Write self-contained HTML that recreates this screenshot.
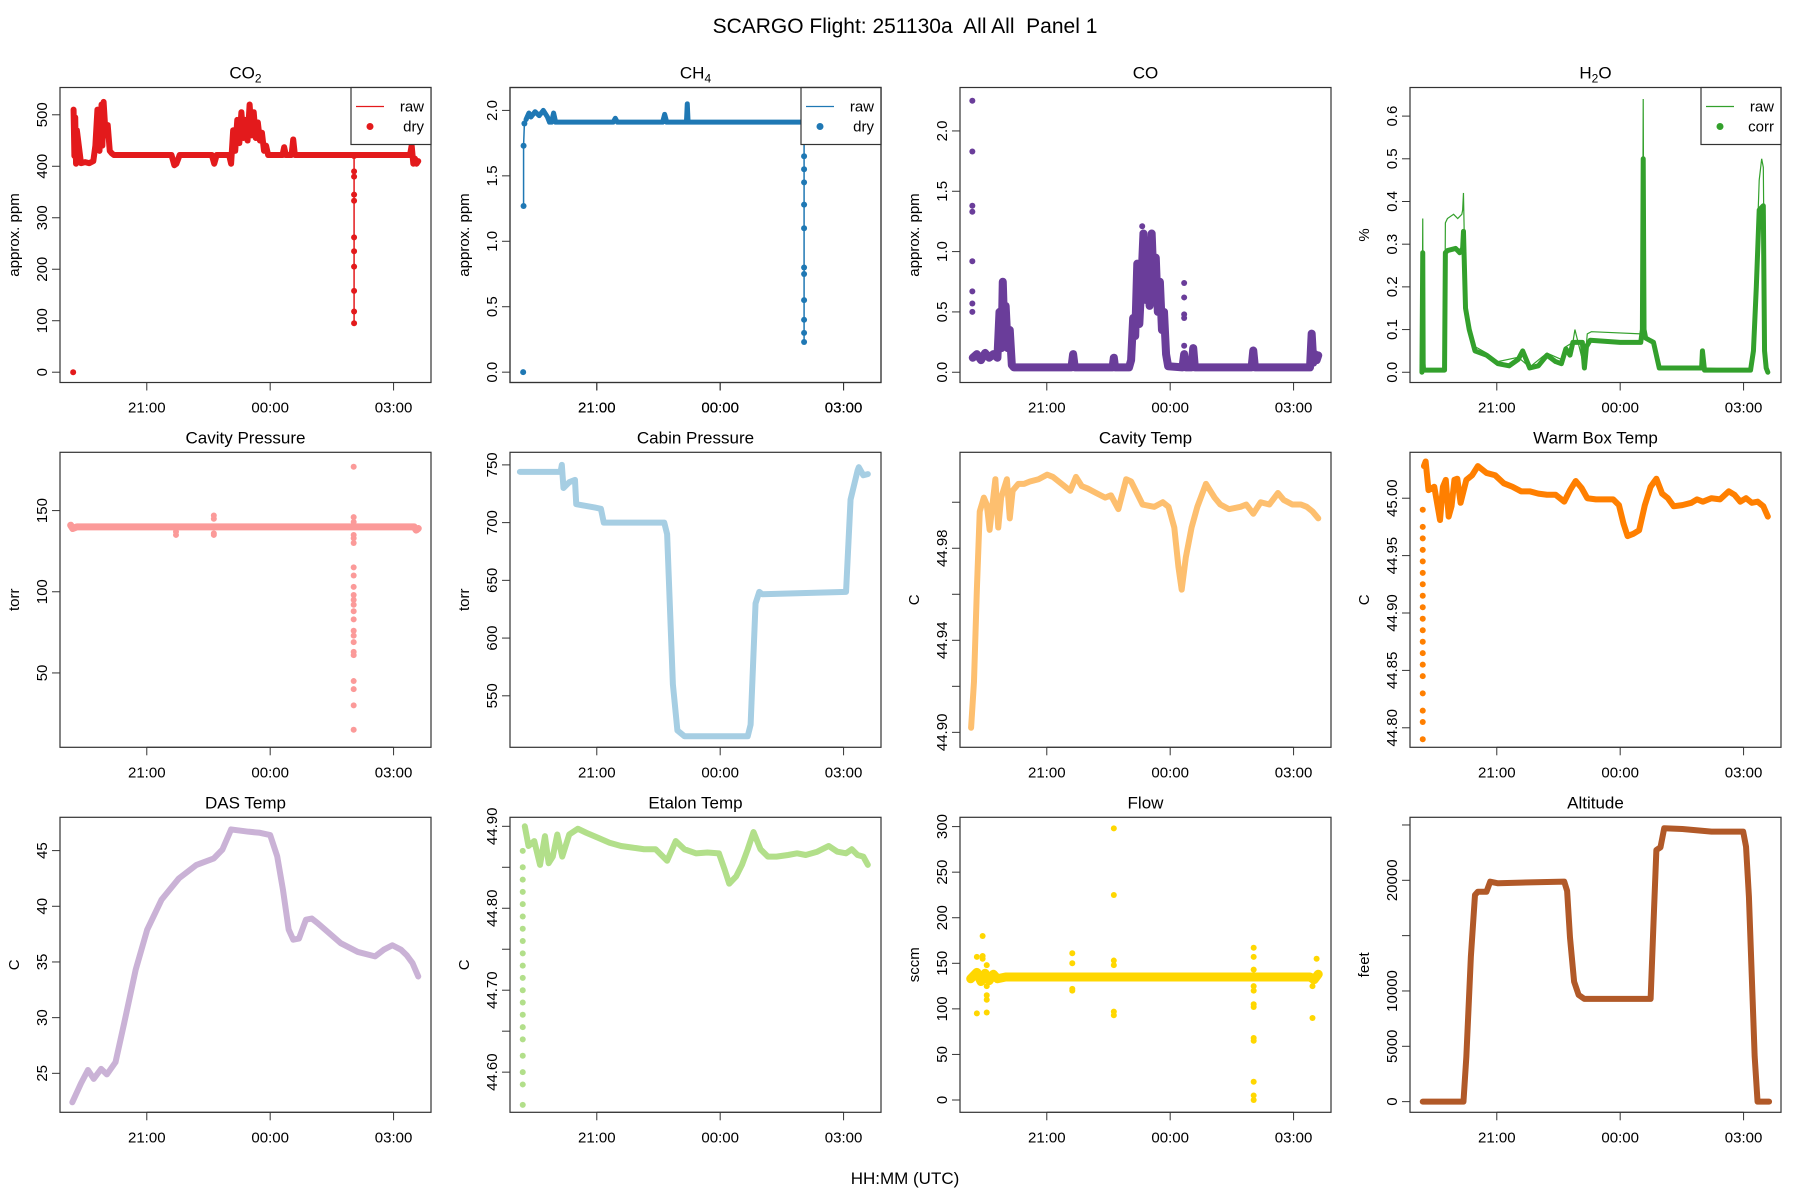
<!DOCTYPE html>
<html><head><meta charset="utf-8"><style>
body{margin:0;background:#fff;}
svg{display:block;font-family:"Liberation Sans",sans-serif;}
</style></head><body>
<svg id="chart" width="1800" height="1200" viewBox="0 0 1800 1200" xmlns="http://www.w3.org/2000/svg">
<text x="905" y="33" font-size="21" text-anchor="middle" style="white-space:pre" xml:space="preserve">SCARGO Flight: 251130a  All All  Panel 1</text>
<text x="905" y="1184" font-size="17" text-anchor="middle">HH:MM (UTC)</text>
</svg>
<script>
// time axis (hours relative to 00:00 UTC)
const timeTicks=[-3,0,3];
const timeLabels=["21:00","00:00","03:00"];

// CO2
const co2Times=[-4.78,-4.76,-4.74,-4.72,-4.7,-4.6,-4.5,-4.4,-4.3,-4.25,-4.2,-4.15,-4.1,-4.08,-4.05,-4.0,-3.95,-3.9,-3.85,-3.8,-2.4,-2.33,-2.28,-2.2,-1.42,-1.36,-1.3,-1.0,-0.95,-0.9,-0.85,-0.8,-0.75,-0.7,-0.65,-0.6,-0.55,-0.5,-0.45,-0.4,-0.35,-0.3,-0.25,-0.2,-0.15,-0.1,-0.05,0.3,0.34,0.38,0.52,0.56,0.6,3.4,3.44,3.48,3.52,3.56,3.6];
const co2Values=[510,420,495,405,470,406,408,406,410,440,510,430,520,440,525,460,480,430,425,422,422,402,405,422,422,405,422,422,405,470,430,490,445,505,455,490,450,520,460,505,455,485,450,465,430,440,422,422,437,422,422,452,422,422,440,405,415,405,410];
const co2DotTimes=[-4.79,2.04,2.04,2.04,2.04,2.04,2.04,2.04,2.04,2.04,2.04,2.04];
const co2DotValues=[0,420,390,380,345,333,262,235,205,158,118,95];
const co2Ticks=[0,100,200,300,400,500];
// CH4
const ch4Times=[-4.72,-4.65,-4.6,-4.5,-4.4,-4.3,-4.2,-4.15,-4.1,-4.05,-4.0,-3.9,-2.6,-2.55,-2.5,-1.4,-1.35,-1.3,-0.82,-0.8,-0.78,2.0,3.5];
const ch4Values=[1.93,1.98,1.95,1.99,1.96,2.0,1.95,1.91,1.91,1.98,1.91,1.91,1.91,1.94,1.91,1.91,1.97,1.91,1.91,2.05,1.91,1.91,1.9];
const ch4DotTimes=[-4.79,-4.78,-4.78,-4.76,2.04,2.04,2.04,2.04,2.04,2.04,2.04,2.04,2.04,2.04,2.04,2.04];
const ch4DotValues=[0,1.27,1.73,1.9,1.9,1.65,1.55,1.45,1.28,1.1,0.8,0.75,0.55,0.4,0.3,0.23];
const ch4Ticks=[0,0.5,1,1.5,2];
// CO
const coTimes=[-4.8,-4.7,-4.6,-4.5,-4.4,-4.3,-4.2,-4.15,-4.1,-4.07,-4.03,-4.0,-3.95,-3.9,-3.85,-3.8,-2.4,-2.36,-2.32,-1.4,-1.37,-1.34,-1.0,-0.95,-0.9,-0.85,-0.8,-0.75,-0.7,-0.65,-0.6,-0.55,-0.5,-0.45,-0.4,-0.35,-0.3,-0.25,-0.2,-0.15,-0.1,-0.05,0.3,0.34,0.38,0.52,0.56,0.6,1.98,2.02,2.06,3.4,3.44,3.48,3.52,3.56,3.6];
const coValues=[0.12,0.15,0.1,0.16,0.12,0.15,0.12,0.5,0.2,0.75,0.3,0.55,0.2,0.35,0.06,0.04,0.04,0.15,0.04,0.04,0.12,0.04,0.04,0.1,0.45,0.3,0.9,0.4,0.75,1.15,0.6,1.0,0.55,1.15,0.7,0.95,0.5,0.75,0.35,0.5,0.15,0.05,0.04,0.15,0.04,0.04,0.2,0.04,0.04,0.18,0.04,0.04,0.32,0.08,0.15,0.1,0.14];
const coDotTimes=[-4.81,-4.81,-4.81,-4.81,-4.81,-4.81,-4.81,-4.81,0.34,0.34,0.34,0.34,0.34,-0.68];
const coDotValues=[2.25,1.83,1.38,1.33,0.92,0.67,0.57,0.5,0.74,0.62,0.48,0.45,0.22,1.21];
const coTicks=[0,0.5,1,1.5,2];
// H2O
const h2oTimes=[-4.82,-4.8,-4.79,-4.78,-4.76,-4.5,-4.27,-4.25,-4.2,-4.0,-3.9,-3.83,-3.81,-3.76,-3.67,-3.53,-3.25,-2.97,-2.7,-2.48,-2.37,-2.2,-1.99,-1.78,-1.57,-1.43,-1.32,-1.22,-1.15,-0.92,-0.87,-0.82,-0.73,0.0,0.5,0.54,0.56,0.58,0.62,0.81,0.95,1.5,1.98,2.0,2.05,2.3,3.17,3.24,3.31,3.38,3.48,3.51,3.55,3.59];
const h2oValues=[0.0,0.28,0.02,0.005,0.005,0.005,0.005,0.28,0.285,0.29,0.28,0.29,0.33,0.15,0.1,0.05,0.04,0.02,0.015,0.03,0.05,0.01,0.015,0.04,0.025,0.02,0.055,0.04,0.07,0.07,0.01,0.06,0.075,0.07,0.07,0.1,0.5,0.1,0.08,0.07,0.01,0.01,0.01,0.05,0.005,0.005,0.005,0.05,0.2,0.38,0.39,0.05,0.01,0.0];
const h2oRawTimes=[-4.82,-4.8,-4.79,-4.76,-4.27,-4.25,-4.2,-4.05,-3.95,-3.85,-3.83,-3.81,-3.76,-3.67,-3.53,-3.25,-2.97,-2.48,-2.2,-1.78,-1.43,-1.32,-1.15,-1.1,-0.87,-0.8,-0.7,0.5,0.54,0.56,0.58,0.62,0.81,0.95,2.0,3.17,3.24,3.31,3.38,3.44,3.48,3.52,3.59];
const h2oRawValues=[0.0,0.36,0.02,0.005,0.005,0.35,0.36,0.37,0.36,0.37,0.38,0.42,0.16,0.11,0.06,0.045,0.025,0.035,0.012,0.045,0.03,0.06,0.07,0.1,0.01,0.09,0.095,0.09,0.12,0.64,0.12,0.08,0.07,0.01,0.01,0.005,0.06,0.25,0.45,0.5,0.48,0.05,0.0];
const h2oTicks=[0,0.1,0.2,0.3,0.4,0.5,0.6];
// Cavity pressure
const cpTimes=[-4.85,-4.8,-4.7,-2.3,-1.37,2.03,3.5,3.55,3.6];
const cpValues=[141,139,140,140,140,140,140,138,139];
const cpDotTimes=[-2.29,-2.29,-1.37,-1.37,-1.37,-1.37,2.03,2.03,2.03,2.03,2.03,2.03,2.03,2.03,2.03,2.03,2.03,2.03,2.03,2.03,2.03,2.03,2.03,2.03,2.03,2.03,2.03,2.03,2.03];
const cpDotValues=[137,135,147,145,136,135,177,146,143,135,133,130,115,110,103,98,95,92,88,83,76,73,69,63,61,45,40,30,15];
const cpTicks=[50,100,150];
// Cabin pressure
const cabTimes=[-4.87,-3.88,-3.85,-3.81,-3.67,-3.53,-3.5,-3.04,-2.9,-2.83,-1.36,-1.29,-1.15,-1.04,-0.87,0.67,0.74,0.86,0.95,1.02,3.06,3.17,3.34,3.37,3.48,3.59];
const cabValues=[744,744,750,730,735,737,716,713,712,700,700,690,560,520,515,515,525,630,640,638,640,720,745,748,741,742];
const cabTicks=[550,600,650,700,750];
// Cavity temp
const ctTimes=[-4.84,-4.77,-4.70,-4.63,-4.53,-4.46,-4.39,-4.32,-4.25,-4.18,-4.11,-3.97,-3.90,-3.83,-3.69,-3.55,-3.41,-3.20,-2.99,-2.85,-2.64,-2.43,-2.29,-2.15,-2.01,-1.80,-1.58,-1.44,-1.26,-1.07,-0.95,-0.81,-0.67,-0.39,-0.18,-0.04,0.10,0.20,0.28,0.38,0.52,0.66,0.87,1.08,1.22,1.43,1.71,1.85,2.02,2.20,2.41,2.62,2.76,2.97,3.18,3.32,3.46,3.60];
const ctValues=[44.902,44.922,44.962,44.996,45.002,44.999,44.988,44.999,45.010,44.989,45.002,45.010,44.993,45.005,45.008,45.008,45.009,45.010,45.012,45.011,45.008,45.005,45.011,45.007,45.006,45.004,45.002,45.003,44.997,45.010,45.009,45.004,44.999,44.998,45.000,44.998,44.989,44.972,44.962,44.976,44.989,44.998,45.008,45.002,44.999,44.997,44.998,44.999,44.995,45.000,44.999,45.004,45.001,44.999,44.999,44.998,44.996,44.993];
const ctTicks=[44.90,44.92,44.94,44.96,44.98,45.00];
const ctLabels=["44.90","","44.94","","44.98",""];
// Warm box temp
const wbTimes=[-4.77,-4.73,-4.66,-4.52,-4.38,-4.31,-4.24,-4.17,-4.10,-4.03,-3.96,-3.88,-3.74,-3.60,-3.46,-3.25,-3.04,-2.83,-2.62,-2.41,-2.20,-1.99,-1.78,-1.57,-1.36,-1.22,-1.08,-0.94,-0.80,-0.59,-0.38,-0.17,-0.03,0.08,0.18,0.32,0.46,0.60,0.74,0.88,1.02,1.16,1.30,1.51,1.73,1.87,2.01,2.22,2.43,2.64,2.78,2.92,3.06,3.20,3.34,3.48,3.59];
const wbValues=[45.028,45.032,45.007,45.010,44.981,45.010,45.016,44.984,44.993,45.016,45.017,44.996,45.016,45.020,45.028,45.022,45.020,45.013,45.010,45.006,45.006,45.004,45.003,45.003,44.997,45.007,45.015,45.009,45.000,44.999,44.999,44.999,44.994,44.978,44.967,44.969,44.972,44.994,45.010,45.017,45.004,45.000,44.993,44.994,44.996,44.999,44.997,45.000,44.999,45.006,45.003,44.997,45.000,44.996,44.997,44.993,44.984];
const wbDotTimes=[-4.80,-4.80,-4.80,-4.80,-4.80,-4.80,-4.80,-4.80,-4.80,-4.80,-4.80,-4.80,-4.80,-4.80,-4.80,-4.80,-4.80,-4.80,-4.80];
const wbDotValues=[44.79,44.805,44.815,44.83,44.845,44.855,44.865,44.875,44.885,44.895,44.905,44.915,44.925,44.935,44.945,44.955,44.965,44.975,44.99];
const wbTicks=[44.80,44.85,44.90,44.95,45.00];
// DAS temp
const dasTimes=[-4.81,-4.60,-4.43,-4.29,-4.11,-3.97,-3.76,-3.55,-3.27,-2.99,-2.64,-2.22,-1.80,-1.37,-1.16,-0.95,-0.74,-0.53,-0.25,0,0.17,0.31,0.45,0.56,0.70,0.87,1.01,1.15,1.43,1.71,2.13,2.55,2.76,2.97,3.18,3.32,3.46,3.60];
const dasValues=[22.4,24.1,25.3,24.5,25.4,24.9,26.0,29.5,34.3,37.9,40.6,42.5,43.7,44.3,45.1,46.9,46.8,46.7,46.6,46.4,44.5,41.5,37.9,37.0,37.1,38.8,38.9,38.5,37.6,36.7,35.9,35.5,36.1,36.5,36.1,35.6,34.9,33.7];
const dasTicks=[25,30,35,40,45];
// Etalon temp
const etTimes=[-4.75,-4.66,-4.52,-4.38,-4.26,-4.17,-4.07,-3.96,-3.84,-3.67,-3.46,-3.25,-2.97,-2.69,-2.41,-2.13,-1.85,-1.57,-1.29,-1.08,-0.87,-0.59,-0.31,-0.03,0.11,0.22,0.39,0.53,0.67,0.81,0.98,1.16,1.37,1.65,1.87,2.08,2.36,2.64,2.85,3.06,3.20,3.34,3.48,3.59];
const etValues=[44.900,44.876,44.882,44.853,44.888,44.855,44.863,44.890,44.863,44.890,44.897,44.892,44.886,44.880,44.876,44.874,44.872,44.872,44.858,44.882,44.872,44.867,44.868,44.867,44.847,44.830,44.839,44.853,44.872,44.893,44.872,44.863,44.863,44.865,44.867,44.865,44.869,44.876,44.869,44.867,44.872,44.865,44.863,44.853];
const etDotTimes=[-4.80,-4.80,-4.80,-4.80,-4.80,-4.80,-4.80,-4.80,-4.80,-4.80,-4.80,-4.80,-4.80,-4.80,-4.80,-4.80,-4.80,-4.80,-4.80,-4.80];
const etDotValues=[44.56,44.585,44.60,44.62,44.64,44.655,44.67,44.685,44.70,44.715,44.73,44.745,44.76,44.775,44.79,44.805,44.82,44.835,44.85,44.87];
const etTicks=[44.60,44.65,44.70,44.75,44.80,44.85,44.90];
const etLabels=["44.60","","44.70","","44.80","","44.90"];
// Flow
const flowTimes=[-4.85,-4.7,-4.6,-4.5,-4.4,-4.3,-4.2,-4.0,3.4,3.5,3.6];
const flowValues=[133,140,130,139,131,138,133,135,135,132,138];
const flowDotTimes=[-4.56,-4.56,-4.56,-4.70,-4.70,-4.46,-4.46,-4.46,-4.46,-4.46,-2.38,-2.38,-2.38,-2.38,-1.37,-1.37,-1.37,-1.37,-1.37,-1.37,2.03,2.03,2.03,2.03,2.03,2.03,2.03,2.03,2.03,2.03,2.03,2.03,3.46,3.46,3.56];
const flowDotValues=[180,158,155,157,95,96,110,115,125,148,161,150,120,122,298,225,153,148,97,93,167,157,143,125,120,105,102,68,65,20,5,0,90,125,155];
const flowTicks=[0,50,100,150,200,250,300];
// Altitude
const altTimes=[-4.80,-3.81,-3.74,-3.63,-3.53,-3.46,-3.25,-3.16,-2.97,-2.41,-1.36,-1.29,-1.22,-1.12,-1.01,-0.87,0.74,0.81,0.88,0.98,1.07,1.51,2.22,2.99,3.06,3.13,3.27,3.34,3.62];
const altValues=[0,0,4066,13100,18670,18970,18970,19880,19730,19790,19880,19040,14820,10840,9640,9280,9280,16110,22740,22980,24700,24640,24400,24400,23040,18520,4070,0,0];
const altTicks=[0,5000,10000,15000,20000,25000];
const altLabels=["0","5000","10000","","20000",""];

const NS="http://www.w3.org/2000/svg";
const svg=document.getElementById('chart');
const colLeft=[60,510,960,1410], rowTop=[87.5,452.3,817.3], W=371, H=295;
const X0=-5.11, X1=3.91;
function el(tag,attrs,parent){const e=document.createElementNS(NS,tag);for(const k in attrs)e.setAttribute(k,attrs[k]);(parent||svg).appendChild(e);return e;}

function panel(p){
  const L=colLeft[p.col], T=rowTop[p.row];
  const g=el('g',{});
  
  
  const sx=t=>L+(t-X0)/(X1-X0)*W;
  const sy=v=>T+H-(v-p.y0)/(p.y1-p.y0)*H;
  const tt=el('text',{x:L+W/2,y:T-9,'font-size':17,'text-anchor':'middle'},g);
  
  
  if(p.sub){tt.textContent=p.title[0];const ts=el('tspan',{'font-size':12,dy:4},tt);ts.textContent=p.sub;const t2=el('tspan',{dy:-4},tt);t2.textContent=p.title[1];}
  else tt.textContent=p.title;
  const cid='clip'+p.name;
  const cp=el('clipPath',{id:cid},g);el('rect',{x:L,y:T,width:W,height:H},cp);
  const dg=el('g',{'clip-path':'url(#'+cid+')'},g);
  if(p.raw){
    const rl=el('polyline',{points:p.raw[0].map((t,i)=>sx(t)+','+sy(p.raw[1][i])).join(' '),fill:'none',stroke:p.color,'stroke-width':1.2},dg);
    
    
  }
  const ln=el('polyline',{points:p.t.map((t,i)=>sx(t)+','+sy(p.v[i])).join(' '),fill:'none',stroke:p.color,'stroke-width':p.sw,'stroke-linejoin':'round','stroke-linecap':'round'},dg);
  
  
  if(p.dt){
    if(p.dipLine){
      const idx=p.dt.map((t,i)=>i).filter(i=>p.dt[i]===p.dipLine);
      const dl=el('polyline',{points:idx.map(i=>sx(p.dt[i])+','+sy(p.dv[i])).join(' '),fill:'none',stroke:p.color,'stroke-width':1.5},dg);
      
      
    }
    p.dt.forEach((t,i)=>{
      const c=el('circle',{cx:sx(t),cy:sy(p.dv[i]),r:p.r||3,fill:p.color},dg);
      
      
    });
  }
  const bx=el('rect',{x:L,y:T,width:W,height:H,fill:'none',stroke:'#333','stroke-width':1.2},g);
  
  
  const xa=el('g',{},g);
  
  
  el('line',{x1:sx(timeTicks[0]),x2:sx(timeTicks[timeTicks.length-1]),y1:T+H,y2:T+H,stroke:'#333'},xa);
  timeTicks.forEach((t,i)=>{
    el('line',{x1:sx(t),x2:sx(t),y1:T+H,y2:T+H+8,stroke:'#333'},xa);
    const lb=el('text',{x:sx(t),y:T+H+30,'font-size':15,'text-anchor':'middle'},xa);
    lb.textContent=timeLabels[i];
  });
  const ya=el('g',{},g);
  
  
  if(p.ticks.length) el('line',{x1:L,x2:L,y1:sy(p.ticks[0]),y2:sy(p.ticks[p.ticks.length-1]),stroke:'#333'},ya);
  p.ticks.forEach((v,i)=>{
    const y=sy(v);
    el('line',{x1:L-8,x2:L,y1:y,y2:y,stroke:'#333'},ya);
    const txt=p.labels?p.labels[i]:v.toFixed(p.dec||0);
    if(txt){const lb=el('text',{x:L-13,y:y,'font-size':15,'text-anchor':'middle',transform:`rotate(-90 ${L-13} ${y})`},ya);lb.textContent=txt;}
  });
  const yt=el('text',{x:L-41,y:T+H/2,'font-size':15,'text-anchor':'middle',transform:`rotate(-90 ${L-41} ${T+H/2})`},g);
  
  
  yt.textContent=p.ylab;
  if(p.legend){
    const lg=el('g',{},g);
    
    
    const lx=L+W-80;
    el('rect',{x:lx,y:T,width:80,height:57,fill:'#fff',stroke:'#333','stroke-width':1.2},lg);
    el('line',{x1:lx+5,x2:lx+33,y1:T+19,y2:T+19,stroke:p.color,'stroke-width':1.2},lg);
    el('circle',{cx:lx+19,cy:T+39,r:3.5,fill:p.color},lg);
    const a=el('text',{x:lx+73,y:T+24,'font-size':15,'text-anchor':'end'},lg);a.textContent='raw';
    const b=el('text',{x:lx+73,y:T+44,'font-size':15,'text-anchor':'end'},lg);b.textContent=p.legend;
  }
}

panel({name:'co2',col:0,row:0,title:['CO',''],sub:'2',color:'#E31A1C',t:co2Times,v:co2Values,dt:co2DotTimes,dv:co2DotValues,dipLine:2.04,sw:6,y0:-20,y1:553,ticks:co2Ticks,ylab:'approx. ppm',legend:'dry',raw:[co2Times,co2Values]});
panel({name:'ch4',col:1,row:0,title:['CH',''],sub:'4',color:'#1F78B4',t:ch4Times,v:ch4Values,dt:ch4DotTimes,dv:ch4DotValues,dipLine:2.04,sw:5,y0:-0.079,y1:2.175,ticks:ch4Ticks,dec:1,ylab:'approx. ppm',legend:'dry'});
panel({name:'ch4-start',col:1,row:0,title:'',color:'#1F78B4',t:[-4.78,-4.78,-4.76,-4.72],v:[1.27,1.73,1.9,1.93],sw:1.5,y0:-0.079,y1:2.175,ticks:[],ylab:''});
panel({name:'co',col:2,row:0,title:'CO',color:'#6A3D9A',t:coTimes,v:coValues,dt:coDotTimes,dv:coDotValues,sw:8,y0:-0.085,y1:2.36,ticks:coTicks,dec:1,ylab:'approx. ppm'});
panel({name:'h2o',col:3,row:0,title:['H','O'],sub:'2',color:'#33A02C',t:h2oTimes,v:h2oValues,sw:5,y0:-0.024,y1:0.667,ticks:h2oTicks,dec:1,ylab:'%',legend:'corr',raw:[h2oRawTimes,h2oRawValues]});
panel({name:'cavity-pressure',col:0,row:1,title:'Cavity Pressure',color:'#FB9A99',t:cpTimes,v:cpValues,dt:cpDotTimes,dv:cpDotValues,sw:7,y0:4.2,y1:185.9,ticks:cpTicks,ylab:'torr'});
panel({name:'cabin-pressure',col:1,row:1,title:'Cabin Pressure',color:'#A6CEE3',t:cabTimes,v:cabValues,sw:6,y0:505.4,y1:760.9,ticks:cabTicks,ylab:'torr'});
panel({name:'cavity-temp',col:2,row:1,title:'Cavity Temp',color:'#FDBF6F',t:ctTimes,v:ctValues,sw:6,y0:44.8935,y1:45.0217,ticks:ctTicks,labels:ctLabels,ylab:'C'});
panel({name:'warm-box-temp',col:3,row:1,title:'Warm Box Temp',color:'#FF7F00',t:wbTimes,v:wbValues,dt:wbDotTimes,dv:wbDotValues,sw:6,y0:44.783,y1:45.04,ticks:wbTicks,dec:2,ylab:'C'});
panel({name:'das-temp',col:0,row:2,title:'DAS Temp',color:'#CAB2D6',t:dasTimes,v:dasValues,sw:6,y0:21.5,y1:47.99,ticks:dasTicks,ylab:'C'});
panel({name:'etalon-temp',col:1,row:2,title:'Etalon Temp',color:'#B2DF8A',t:etTimes,v:etValues,dt:etDotTimes,dv:etDotValues,sw:6,y0:44.551,y1:44.911,ticks:etTicks,labels:etLabels,ylab:'C'});
panel({name:'flow',col:2,row:2,title:'Flow',color:'#FFD700',t:flowTimes,v:flowValues,dt:flowDotTimes,dv:flowDotValues,sw:9,y0:-13.5,y1:310.2,ticks:flowTicks,ylab:'sccm'});
panel({name:'altitude',col:3,row:2,title:'Altitude',color:'#B15928',t:altTimes,v:altValues,sw:6,y0:-964,y1:25693,ticks:altTicks,labels:altLabels,ylab:'feet'});
</script>
</body></html>
